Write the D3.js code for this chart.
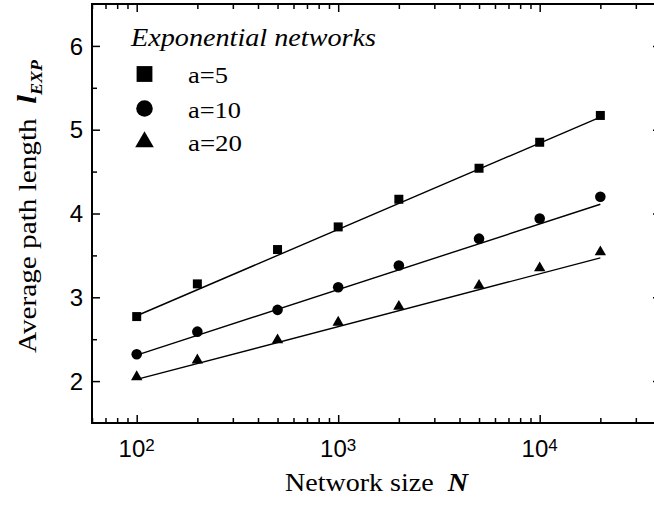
<!DOCTYPE html>
<html>
<head>
<meta charset="utf-8">
<script src="https://cdn.jsdelivr.net/npm/d3@7"></script>
<style>
  html, body { margin: 0; padding: 0; background: #fff; }
  svg { display: block; }
</style>
</head>
<body>
<svg id="chart" width="654" height="506"></svg>
<script>
// ---- data ----
const networkSizes = [100, 200, 500, 1000, 2000, 5000, 10000, 20000];
const seriesLabels = ["a=5", "a=10", "a=20"];
const valuesA5  = [2.77, 3.16, 3.57, 3.84, 4.17, 4.54, 4.85, 5.17];
const valuesA10 = [2.32, 2.59, 2.85, 3.12, 3.38, 3.70, 3.94, 4.20];
const valuesA20 = [2.05, 2.25, 2.49, 2.70, 2.89, 3.14, 3.35, 3.54];
// fitted straight lines (value at first and last N)
const fitA5  = [2.78, 5.15];
const fitA10 = [2.31, 4.11];
const fitA20 = [2.02, 3.47];
const yTickValues = [2, 3, 4, 5, 6];
const xTickValues = [100, 1000, 10000];
const xTickExponents = ["2", "3", "4"];

const series = [
  { label: seriesLabels[0], values: valuesA5,  fit: fitA5,  symbol: d3.symbolSquare },
  { label: seriesLabels[1], values: valuesA10, fit: fitA10, symbol: d3.symbolCircle },
  { label: seriesLabels[2], values: valuesA20, fit: fitA20, symbol: d3.symbolTriangle }
];

const svg = d3.select("#chart");
const L = 92, R = 661, T = 4, B = 423;

const x = d3.scaleLog().domain([60, 40000]).range([L, R]);
const y = d3.scaleLinear().domain([1.5, 6.5]).range([B, T]);

const serif = "'Liberation Serif', 'Times New Roman', serif";
const sans = "'Liberation Sans', Arial, Helvetica, sans-serif";

// minor tick values
const xMinor = [];
[10, 100, 1000, 10000].forEach(dec => {
  for (let k = 2; k <= 9; k++) {
    const v = k * dec;
    if (v >= 60 && v <= 40000) xMinor.push(v);
  }
});
const yMinor = [2.5, 3.5, 4.5, 5.5];

// axes (ticks inward)
function addAxis(axis, tx, ty) {
  const g = svg.append("g").attr("transform", `translate(${tx},${ty})`).call(axis);
  g.select(".domain").remove();
  g.selectAll(".tick line").attr("stroke", "#000").attr("stroke-width", 1.5);
  return g;
}
addAxis(d3.axisTop(x).tickValues(xTickValues).tickSize(8).tickFormat(""), 0, B);
addAxis(d3.axisTop(x).tickValues(xMinor).tickSize(5).tickFormat(""), 0, B);
addAxis(d3.axisBottom(x).tickValues(xTickValues).tickSize(8).tickFormat(""), 0, T);
addAxis(d3.axisBottom(x).tickValues(xMinor).tickSize(5).tickFormat(""), 0, T);
addAxis(d3.axisRight(y).tickValues(yTickValues).tickSize(8).tickFormat(""), L, 0);
addAxis(d3.axisRight(y).tickValues(yMinor).tickSize(5).tickFormat(""), L, 0);
addAxis(d3.axisLeft(y).tickValues(yTickValues).tickSize(8).tickFormat(""), R, 0);
addAxis(d3.axisLeft(y).tickValues(yMinor).tickSize(5).tickFormat(""), R, 0);

// frame
svg.append("rect")
  .attr("x", L).attr("y", T).attr("width", R - L).attr("height", B - T)
  .attr("fill", "none").attr("stroke", "#000").attr("stroke-width", 2);

// y tick labels
svg.append("g").selectAll("text").data(yTickValues).join("text")
  .attr("x", L - 9).attr("y", d => y(d)).attr("dy", "0.36em")
  .attr("text-anchor", "end")
  .attr("font-family", sans).attr("font-size", 24)
  .text(d => d);

// x tick labels
const xl = svg.append("g").selectAll("text").data(xTickValues).join("text")
  .attr("x", (d) => x(d)).attr("y", 457)
  .attr("text-anchor", "middle")
  .attr("font-family", sans).attr("font-size", 24);
xl.append("tspan").text("10");
xl.append("tspan").attr("dy", -6).attr("font-size", 17).text((d, i) => xTickExponents[i]);

// fit lines
const first = networkSizes[0], last = networkSizes[networkSizes.length - 1];
svg.append("g").selectAll("line").data(series).join("line")
  .attr("x1", x(first)).attr("x2", x(last))
  .attr("y1", d => y(d.fit[0])).attr("y2", d => y(d.fit[1]))
  .attr("stroke", "#000").attr("stroke-width", 1.4);

// markers
const markerSize = [81, 88, 56];
series.forEach((s, si) => {
  svg.append("g").selectAll("path").data(s.values).join("path")
    .attr("transform", (d, i) => `translate(${x(networkSizes[i])},${y(d)})`)
    .attr("d", d3.symbol().type(s.symbol).size(markerSize[si]))
    .attr("fill", "#000");
});

// legend
svg.append("text")
  .attr("x", 131).attr("y", 46)
  .attr("font-family", serif).attr("font-style", "italic").attr("font-size", 25)
  .attr("textLength", 245).attr("lengthAdjust", "spacingAndGlyphs")
  .text("Exponential networks");
const legendSize = [250, 215, 150];
const legendY = [74, 108.5, 142];
const legendW = [40, 53, 54];
series.forEach((s, si) => {
  svg.append("path")
    .attr("transform", `translate(144.5,${legendY[si]})`)
    .attr("d", d3.symbol().type(s.symbol).size(legendSize[si]))
    .attr("fill", "#000");
  svg.append("text")
    .attr("x", 188).attr("y", legendY[si] + 9)
    .attr("font-family", serif).attr("font-size", 24)
    .attr("textLength", legendW[si]).attr("lengthAdjust", "spacingAndGlyphs")
    .text(s.label);
});

// x axis title
const xt = svg.append("text")
  .attr("x", 285).attr("y", 491)
  .attr("font-family", serif).attr("font-size", 25)
  .attr("textLength", 183).attr("lengthAdjust", "spacingAndGlyphs");
xt.append("tspan").text("Network size\u00a0\u00a0");
xt.append("tspan").attr("font-style", "italic").attr("font-weight", "bold").text("N");

// y axis title
const yt = svg.append("text")
  .attr("transform", "translate(36,353) rotate(-90)")
  .attr("font-family", serif).attr("font-size", 26)
  .attr("textLength", 293).attr("lengthAdjust", "spacingAndGlyphs");
yt.append("tspan").text("Average path length\u00a0\u00a0");
yt.append("tspan").attr("font-style", "italic").attr("font-weight", "bold").attr("font-size", 28).text("l");
yt.append("tspan").attr("font-style", "italic").attr("font-weight", "bold").attr("font-size", 16).attr("dy", 6).text("EXP");
</script>
</body>
</html>
